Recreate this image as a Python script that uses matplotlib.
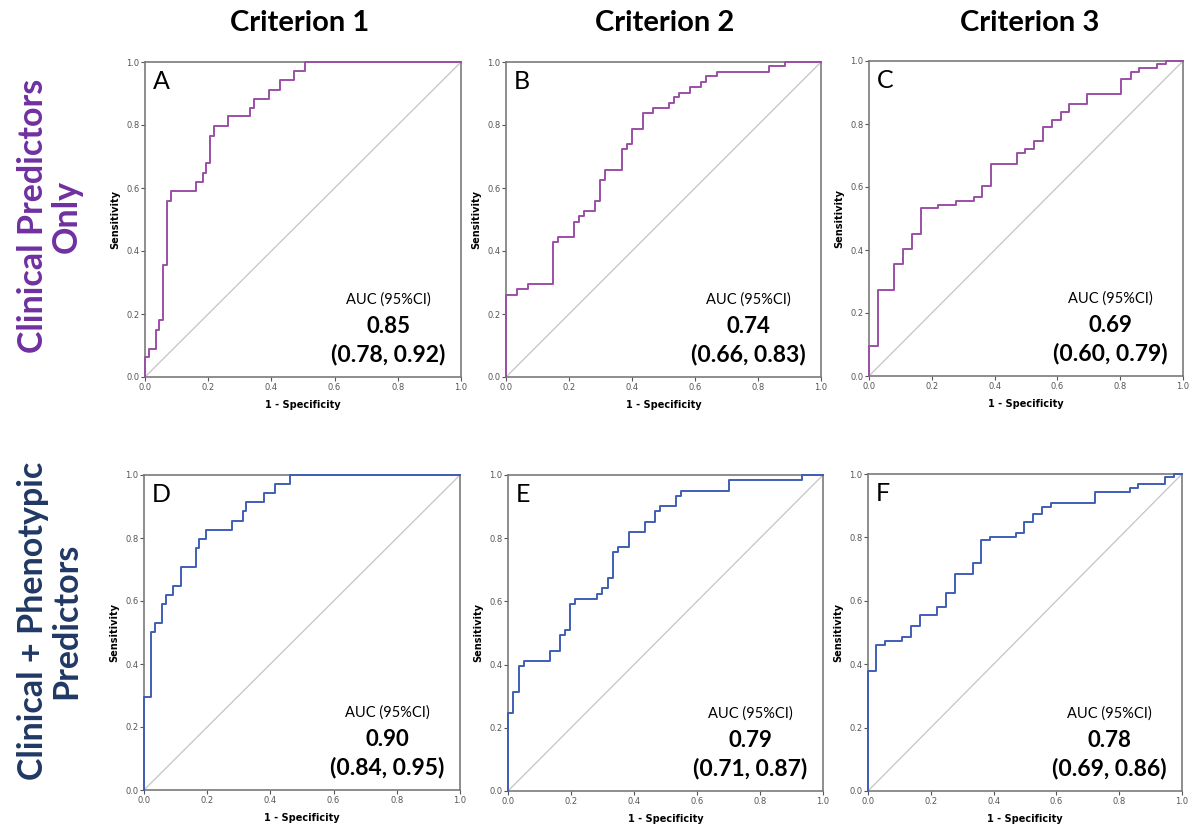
import matplotlib.pyplot as plt
import numpy as np

plt.rcParams['font.family'] = ['Lato', 'DejaVu Sans']

# ROC corner points (1 - specificity, sensitivity)
fpr_A = [0, 0, 0.013, 0.035, 0.045, 0.058, 0.070, 0.081, 0.161, 0.183, 0.193, 0.206, 0.219, 0.264, 0.333, 0.345, 0.391, 0.428, 0.470, 0.507, 1.0]
tpr_A = [0, 0.063, 0.09, 0.15, 0.18, 0.357, 0.559, 0.59, 0.62, 0.649, 0.679, 0.766, 0.797, 0.828, 0.855, 0.884, 0.912, 0.943, 0.972, 1.0, 1.0]

fpr_B = [0, 0, 0.034, 0.069, 0.150, 0.166, 0.217, 0.233, 0.249, 0.283, 0.298, 0.315, 0.368, 0.383, 0.400, 0.434, 0.468, 0.517, 0.533, 0.549, 0.584, 0.618, 0.635, 0.669, 0.834, 0.886, 1.0]
tpr_B = [0, 0.261, 0.279, 0.296, 0.428, 0.444, 0.493, 0.511, 0.526, 0.559, 0.624, 0.658, 0.723, 0.740, 0.788, 0.839, 0.855, 0.871, 0.888, 0.903, 0.921, 0.938, 0.955, 0.968, 0.986, 1.0, 1.0]

fpr_C = [0, 0, 0.028, 0.081, 0.108, 0.137, 0.165, 0.221, 0.278, 0.333, 0.359, 0.388, 0.470, 0.497, 0.525, 0.553, 0.582, 0.610, 0.638, 0.693, 0.804, 0.833, 0.860, 0.917, 0.947, 1.0]
tpr_C = [0, 0.096, 0.273, 0.355, 0.404, 0.450, 0.532, 0.543, 0.555, 0.568, 0.603, 0.672, 0.708, 0.720, 0.745, 0.791, 0.814, 0.838, 0.863, 0.896, 0.943, 0.966, 0.979, 0.989, 1.0, 1.0]

fpr_D = [0, 0, 0.023, 0.036, 0.058, 0.069, 0.092, 0.116, 0.163, 0.173, 0.195, 0.278, 0.312, 0.322, 0.381, 0.414, 0.461, 1.0]
tpr_D = [0, 0.296, 0.501, 0.531, 0.589, 0.620, 0.649, 0.708, 0.767, 0.796, 0.826, 0.855, 0.885, 0.913, 0.944, 0.972, 1.0, 1.0]

fpr_E = [0, 0, 0.016, 0.034, 0.050, 0.132, 0.166, 0.182, 0.198, 0.214, 0.283, 0.298, 0.316, 0.332, 0.348, 0.383, 0.434, 0.468, 0.484, 0.533, 0.549, 0.701, 0.933, 1.0]
tpr_E = [0, 0.247, 0.313, 0.395, 0.411, 0.444, 0.495, 0.511, 0.592, 0.609, 0.624, 0.641, 0.674, 0.755, 0.771, 0.821, 0.852, 0.885, 0.902, 0.935, 0.950, 0.983, 1.0, 1.0]

fpr_F = [0, 0, 0.027, 0.053, 0.109, 0.138, 0.165, 0.221, 0.248, 0.276, 0.333, 0.361, 0.388, 0.471, 0.497, 0.526, 0.555, 0.582, 0.723, 0.834, 0.861, 0.946, 0.974, 1.0]
tpr_F = [0, 0.378, 0.461, 0.472, 0.485, 0.521, 0.556, 0.580, 0.625, 0.684, 0.719, 0.791, 0.801, 0.814, 0.848, 0.874, 0.896, 0.908, 0.943, 0.955, 0.967, 0.991, 1.0, 1.0]

panel_letters = ['A', 'B', 'C', 'D', 'E', 'F']
auc_values = ['0.85', '0.74', '0.69', '0.90', '0.79', '0.78']
auc_ci = ['(0.78, 0.92)', '(0.66, 0.83)', '(0.60, 0.79)', '(0.84, 0.95)', '(0.71, 0.87)', '(0.69, 0.86)']
col_titles = ['Criterion 1', 'Criterion 2', 'Criterion 3']
row_titles = ['Clinical Predictors\nOnly', 'Clinical + Phenotypic\nPredictors']

curves = [(fpr_A, tpr_A), (fpr_B, tpr_B), (fpr_C, tpr_C),
          (fpr_D, tpr_D), (fpr_E, tpr_E), (fpr_F, tpr_F)]
line_colors = ['#9b4fa6'] * 3 + ['#3f5fb5'] * 3
row_colors = ['#7030a0', '#203864']

W, H = 1189, 827
# axes boxes in pixels: left, top, right, bottom
boxes = [(145, 62, 461, 377), (506, 62, 821, 377), (869, 61, 1183, 376),
         (144, 475, 460, 790), (508, 475, 823, 791), (868, 474, 1182, 791)]

fig = plt.figure(figsize=(W / 100, H / 100), dpi=100)

for i, (l, t, r, b) in enumerate(boxes):
    ax = fig.add_axes([l / W, 1 - b / H, (r - l) / W, (b - t) / H])
    fpr, tpr = curves[i]
    ax.plot([0, 1], [0, 1], color='#c4c4c4', lw=0.9)
    ax.step(fpr, tpr, where='post', color=line_colors[i], lw=1.4,
            clip_on=False, zorder=4)
    ax.set_xlim(0, 1)
    ax.set_ylim(0, 1)
    ticks = np.arange(0, 1.01, 0.2)
    ax.set_xticks(ticks)
    ax.set_yticks(ticks)
    ax.set_xticklabels(['%.1f' % v for v in ticks], family='DejaVu Sans')
    ax.set_yticklabels(['%.1f' % v for v in ticks], family='DejaVu Sans')
    ax.tick_params(labelsize=6, colors='#555555', length=3, width=0.8, pad=1)
    for s in ax.spines.values():
        s.set_color('#7a7a7a')
        s.set_linewidth(1.2)
    ax.set_xlabel('1 - Specificity', fontsize=7, fontweight='bold', family='DejaVu Sans', labelpad=6)
    ax.set_ylabel('Sensitivity', fontsize=7, fontweight='bold', family='DejaVu Sans', labelpad=4)
    ax.text(0.025, 0.975, panel_letters[i], transform=ax.transAxes, fontsize=18,
            va='top', ha='left')
    ax.text(0.77, 0.245, 'AUC (95%CI)', transform=ax.transAxes, fontsize=10.5,
            ha='center', va='center')
    ax.text(0.77, 0.16, auc_values[i], transform=ax.transAxes, fontsize=16,
            ha='center', va='center', fontweight='bold')
    ax.text(0.77, 0.07, auc_ci[i], transform=ax.transAxes, fontsize=16.5,
            ha='center', va='center', fontweight='bold')

for j, x in enumerate([300, 665, 1030]):
    fig.text(x / W, 1 - 23 / H, col_titles[j], fontsize=21, fontweight='bold',
             ha='center', va='center')

for k, y in enumerate([216, 621]):
    fig.text(50 / W, 1 - y / H, row_titles[k], fontsize=24.5, fontweight='bold',
             rotation=90, ha='center', va='center', color=row_colors[k],
             multialignment='center', linespacing=1.05)

fig.savefig('out.png', dpi=100)
